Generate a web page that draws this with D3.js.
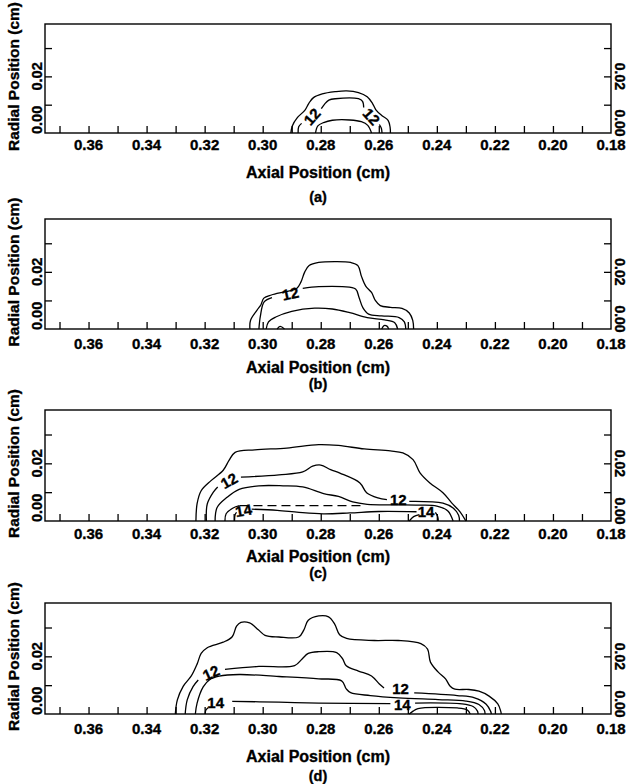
<!DOCTYPE html>
<html><head><meta charset="utf-8">
<script src="https://cdn.jsdelivr.net/npm/d3@7"></script>
<style>
body{margin:0;background:#fff}
svg{display:block}
text{font-family:"Liberation Sans",Arial,Helvetica,sans-serif;font-weight:bold;fill:#000;stroke:#000;stroke-width:0.35px}
</style>
</head><body>
<svg id="chart" width="627" height="784"></svg>
<script>
// ---------- axes data ----------
const axialDomain = [0.375, 0.18];
const radialDomain = [0, 0.0385];
const axialMinorTicks = [0.37,0.36,0.35,0.34,0.33,0.32,0.31,0.30,0.29,0.28,0.27,0.26,0.25,0.24,0.23,0.22,0.21,0.20,0.19];
const axialTickLabels = [0.36,0.34,0.32,0.30,0.28,0.26,0.24,0.22,0.20,0.18];
const radialMinorTicks = [0.01,0.02,0.03];
const radialTickLabels = [0.00,0.02];
const panelLetters = ["(a)","(b)","(c)","(d)"];
const xTitle = "Axial Position (cm)";
const yTitle = "Radial Position (cm)";

// ---------- panel (a) contours [axial, radial] ----------
const aOuter = [[0.2903,0],[0.2898,0.0025],[0.2880,0.0055],[0.2855,0.0080],[0.2841,0.0105],[0.2825,0.0125],[0.2795,0.0138],[0.2750,0.0146],[0.2711,0.0149],[0.2670,0.0143],[0.2640,0.0128],[0.2622,0.0105],[0.2610,0.0082],[0.2590,0.0062],[0.2568,0.0045],[0.2561,0.0020],[0.2560,0]];
const a12Left = [[0.2878,0],[0.2876,0.0022],[0.2866,0.0034]];
const a12Mid = [[0.2798,0.0086],[0.2786,0.0103],[0.2772,0.0116],[0.2750,0.0121],[0.2670,0.0121],[0.2656,0.0112],[0.2652,0.0090]];
const a12Right = [[0.2598,0.0030],[0.2591,0.0016],[0.2589,0]];
const aInner = [[0.2818,0],[0.2810,0.0025],[0.2790,0.0037],[0.2760,0.0045],[0.2700,0.0046],[0.2660,0.0040],[0.2638,0.0027],[0.2625,0]];
const aLabels = [["12",0.2830,0.0058,-48],["12",0.2625,0.0058,48]];

// ---------- panel (b) ----------
const bOuter = [[0.3044,0],[0.3042,0.0030],[0.3020,0.0065],[0.3006,0.0085],[0.2996,0.0108],[0.2970,0.0119],[0.2920,0.0131],[0.2883,0.0142],[0.2868,0.0165],[0.2855,0.0200],[0.2840,0.0222],[0.2807,0.0233],[0.2752,0.0236],[0.2697,0.0233],[0.2672,0.0222],[0.2660,0.0185],[0.2645,0.0150],[0.2625,0.0128],[0.2612,0.0100],[0.2595,0.0082],[0.2560,0.0076],[0.2520,0.0072],[0.2495,0.0056],[0.2483,0.0030],[0.2480,0]];
const b12Left = [[0.3013,0],[0.3008,0.0045],[0.2995,0.0095],[0.2968,0.0110]];
const b12Right = [[0.2862,0.0142],[0.2807,0.0148],[0.2725,0.0148],[0.2680,0.0140],[0.2668,0.0110],[0.2655,0.0075],[0.2635,0.0052],[0.2590,0.0046],[0.2530,0.0040],[0.2512,0.0025],[0.2507,0]];
const bInner = [[0.2988,0],[0.2980,0.0025],[0.2955,0.0042],[0.2900,0.0062],[0.2821,0.0073],[0.2760,0.0070],[0.2700,0.0057],[0.2640,0.0040],[0.2580,0.0032],[0.2545,0.0022],[0.2535,0]];
const bSmall1 = [[0.2950,0],[0.2940,0.0009],[0.2925,0]];
const bSmall2 = [[0.2590,0],[0.2582,0.0012],[0.2572,0.0010],[0.2566,0]];
const bLabels = [["12",0.2905,0.0124,-12]];

// ---------- panel (c) ----------
const cOuter = [[0.3230,0],[0.3226,0.0060],[0.3212,0.0105],[0.3178,0.0140],[0.3136,0.0176],[0.3116,0.0210],[0.3095,0.0238],[0.3027,0.0247],[0.2917,0.0253],[0.2807,0.0265],[0.2739,0.0262],[0.2650,0.0250],[0.2560,0.0243],[0.2517,0.0236],[0.2482,0.0213],[0.2458,0.0167],[0.2424,0.0132],[0.2379,0.0098],[0.2349,0.0063],[0.2320,0.0032],[0.2300,0]];
const c12Left = [[0.3194,0],[0.3191,0.0059],[0.3170,0.0100],[0.3155,0.0118]];
const c12Mid = [[0.3075,0.0152],[0.2944,0.0160],[0.2862,0.0170],[0.2828,0.0190],[0.2800,0.0194],[0.2766,0.0178],[0.2734,0.0166],[0.2665,0.0132],[0.2642,0.0098],[0.2603,0.0080],[0.2572,0.0074]];
const c12Right = [[0.2495,0.0068],[0.2379,0.0062],[0.2344,0.0045],[0.2325,0.0020],[0.2322,0]];
const cThird = [[0.3164,0],[0.3157,0.0047],[0.3123,0.0082],[0.3081,0.0110],[0.3013,0.0122],[0.2930,0.0122],[0.2862,0.0118],[0.2790,0.0095],[0.2739,0.0085],[0.2690,0.0066],[0.2640,0.0058],[0.2550,0.0056],[0.2464,0.0055],[0.2400,0.0052],[0.2362,0.0035],[0.2344,0]];
const cDashLeft = [[0.3130,0],[0.3126,0.0025],[0.3102,0.0045],[0.3080,0.0053]];
const cDashMid = [[0.3080,0.0053],[0.2660,0.0053]];
const c14Left = [[0.3097,0],[0.3095,0.0022],[0.3090,0.0030]];
const c14Mid = [[0.3038,0.0041],[0.2950,0.0037],[0.2875,0.0030],[0.2792,0.0025],[0.2700,0.0028],[0.2600,0.0033],[0.2470,0.0032]];
const c14Right = [[0.2405,0.0030],[0.2397,0.0015],[0.2395,0]];
const cInner = [[0.2495,0],[0.2480,0.0015],[0.2460,0.0022]];
const cLabels = [["12",0.3116,0.0140,-30],["12",0.2533,0.0076,0],["14",0.3066,0.0037,-10],["14",0.2437,0.0032,0]];

// ---------- panel (d) ----------
const dOuter = [[0.3301,0],[0.3294,0.0049],[0.3274,0.0096],[0.3246,0.0132],[0.3226,0.0173],[0.3212,0.0210],[0.3191,0.0230],[0.3136,0.0249],[0.3105,0.0268],[0.3090,0.0305],[0.3075,0.0318],[0.3045,0.0316],[0.3015,0.0292],[0.2992,0.0273],[0.2944,0.0267],[0.2876,0.0267],[0.2858,0.0292],[0.2843,0.0325],[0.2807,0.0340],[0.2773,0.0337],[0.2752,0.0312],[0.2735,0.0275],[0.2711,0.0262],[0.2615,0.0255],[0.2533,0.0255],[0.2455,0.0244],[0.2432,0.0225],[0.2422,0.0180],[0.2396,0.0146],[0.2370,0.0122],[0.2354,0.0096],[0.2338,0.0086],[0.2290,0.0085],[0.2255,0.0079],[0.2220,0.0062],[0.2190,0.0035],[0.2180,0.0010],[0.2178,0]];
const d12Left = [[0.3267,0],[0.3260,0.0049],[0.3240,0.0095],[0.3222,0.0118]];
const d12Mid = [[0.3130,0.0155],[0.3013,0.0165],[0.2890,0.0168],[0.2865,0.0190],[0.2843,0.0210],[0.2807,0.0216],[0.2745,0.0213],[0.2725,0.0192],[0.2712,0.0167],[0.2670,0.0149],[0.2625,0.0132],[0.2598,0.0104],[0.2582,0.0090]];
const d12Right = [[0.2478,0.0073],[0.2330,0.0064],[0.2270,0.0056],[0.2230,0.0034],[0.2215,0.0010],[0.2212,0]];
const dThird = [[0.3232,0],[0.3226,0.0038],[0.3205,0.0094],[0.3184,0.0118],[0.3150,0.0131],[0.3081,0.0137],[0.2944,0.0130],[0.2807,0.0122],[0.2728,0.0115],[0.2712,0.0087],[0.2697,0.0074],[0.2629,0.0064],[0.2533,0.0056],[0.2396,0.0050],[0.2300,0.0045],[0.2255,0.0033],[0.2236,0.0012],[0.2234,0]];
const d14Left = [[0.3198,0],[0.3196,0.0013],[0.3188,0.0022]];
const d14Mid = [[0.3105,0.0044],[0.2944,0.0041],[0.2807,0.0038],[0.2560,0.0036]];
const d14Right = [[0.2475,0.0038],[0.2314,0.0035],[0.2275,0.0026],[0.2260,0.0010],[0.2258,0]];
const dInner = [[0.2495,0],[0.2482,0.0010],[0.2465,0.0019],[0.2330,0.0021],[0.2295,0.0014],[0.2285,0]];
const dLabels = [["12",0.3178,0.0143,-25],["12",0.2525,0.0088,0],["14",0.3162,0.0040,0],["14",0.2519,0.0032,0]];

// ---------- layout ----------
const W = 627, H = 784;
const plotLeft = 45, plotRight = 611;
const panels = [
  {top:24,  bottom:133, tickY:144, titleY:172, letterY:197, solid:[aOuter,a12Left,a12Mid,a12Right,aInner], dashed:[], labels:aLabels},
  {top:219, bottom:329, tickY:343, titleY:367, letterY:384, solid:[bOuter,b12Left,b12Right,bInner,bSmall1,bSmall2], dashed:[], labels:bLabels},
  {top:410, bottom:521, tickY:533, titleY:556, letterY:573, solid:[cOuter,c12Left,c12Mid,c12Right,cThird,cDashLeft,c14Left,c14Mid,c14Right,cInner], dashed:[cDashMid], labels:cLabels},
  {top:603, bottom:714, tickY:728, titleY:756, letterY:776, solid:[dOuter,d12Left,d12Mid,d12Right,dThird,d14Left,d14Mid,d14Right,dInner], dashed:[], labels:dLabels}
];

const svg = d3.select("#chart");
svg.append("rect").attr("width",W).attr("height",H).attr("fill","#fff");
const x = d3.scaleLinear().domain(axialDomain).range([plotLeft, plotRight]);
const fmt = d3.format(".2f");

panels.forEach((p, i) => {
  const y = d3.scaleLinear().domain(radialDomain).range([p.bottom, p.top]);
  const g = svg.append("g");

  // inward ticks
  const xAx = g.append("g").attr("transform",`translate(0,${p.bottom})`)
    .call(d3.axisBottom(x).tickValues(axialMinorTicks).tickSize(-7).tickFormat(""));
  const yL = g.append("g").attr("transform",`translate(${plotLeft},0)`)
    .call(d3.axisLeft(y).tickValues(radialMinorTicks).tickSize(-7).tickFormat(""));
  const yR = g.append("g").attr("transform",`translate(${plotRight},0)`)
    .call(d3.axisRight(y).tickValues(radialMinorTicks).tickSize(-7).tickFormat(""));
  [xAx,yL,yR].forEach(a => { a.select(".domain").remove(); a.selectAll("line").attr("stroke","#000").attr("stroke-width",1.3); });

  // frame
  g.append("rect").attr("x",plotLeft).attr("y",p.top).attr("width",plotRight-plotLeft).attr("height",p.bottom-p.top)
    .attr("fill","none").attr("stroke","#000").attr("stroke-width",1.4);

  // x tick labels
  g.selectAll(".xl").data(axialTickLabels).enter().append("text")
    .attr("x", d => x(d)).attr("y", p.tickY).attr("text-anchor","middle").attr("dominant-baseline","central")
    .style("font-size","15px").text(d => fmt(d));

  // rotated y tick labels, left and right
  radialTickLabels.forEach(v => {
    const isZero = v === 0;
    g.append("text")
      .attr("transform",`translate(42,${isZero ? p.bottom + 1 : y(v)}) rotate(-90)`)
      .attr("text-anchor", isZero ? "start" : "middle")
      .style("font-size","14.5px").text(fmt(v));
    g.append("text")
      .attr("transform",`translate(615,${isZero ? p.bottom - 10 : y(v)}) rotate(90)`)
      .attr("text-anchor","middle")
      .style("font-size","14px").text(fmt(v));
  });

  // y title
  g.append("text").attr("transform",`translate(19,${(p.top+p.bottom)/2 - 2}) rotate(-90)`)
    .attr("text-anchor","middle").style("font-size","15.5px").text(yTitle);
  // x title
  g.append("text").attr("x",(plotLeft+plotRight)/2 - 10).attr("y",p.titleY).attr("text-anchor","middle")
    .attr("dominant-baseline","central").style("font-size","16px").text(xTitle);
  // panel letter
  g.append("text").attr("x",(plotLeft+plotRight)/2 - 10).attr("y",p.letterY).attr("text-anchor","middle")
    .attr("dominant-baseline","central").style("font-size","14.5px").text(panelLetters[i]);

  // contours
  const line = d3.line().x(d => x(d[0])).y(d => y(d[1])).curve(d3.curveCatmullRom.alpha(0.5));
  g.selectAll(".cs").data(p.solid).enter().append("path")
    .attr("d", line).attr("fill","none").attr("stroke","#000").attr("stroke-width",1.3);
  g.selectAll(".cd").data(p.dashed).enter().append("path")
    .attr("d", line).attr("fill","none").attr("stroke","#000").attr("stroke-width",1.3).attr("stroke-dasharray","9,5");
  g.selectAll(".cl").data(p.labels).enter().append("text")
    .attr("transform", d => `translate(${x(d[1])},${y(d[2])}) rotate(${d[3]})`)
    .attr("text-anchor","middle").attr("dominant-baseline","central")
    .style("font-size","15px").text(d => d[0]);
});
</script>
</body></html>
